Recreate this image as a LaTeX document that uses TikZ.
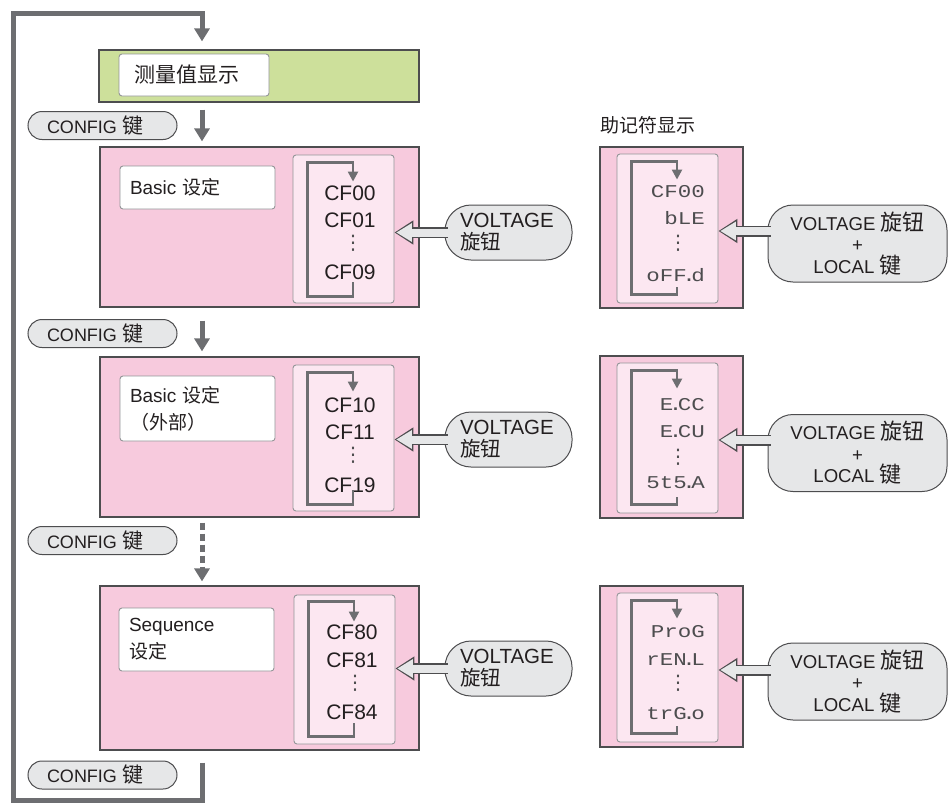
\documentclass[tikz,border=0pt]{standalone}
\usepackage{fontspec}
\setmainfont{Liberation Sans}
\newfontfamily\cjk{Noto Sans CJK SC}
\newfontfamily\segfont[FakeStretch=1.25]{Liberation Mono}
\newfontfamily\symfont{DejaVu Sans}
\newcommand\segdot{\kern-4.5pt.\kern-4.5pt}
\usetikzlibrary{arrows.meta,positioning}

\definecolor{flowgray}{HTML}{6D6E71}
\definecolor{edgegray}{HTML}{4D4D4F}
\definecolor{thingray}{HTML}{939598}
\definecolor{panelpink}{HTML}{F7CADD}
\definecolor{listpink}{HTML}{FCE7F1}
\definecolor{measgreen}{HTML}{CDE09B}
\definecolor{keygray}{HTML}{E6E7E8}
\definecolor{inkgray}{HTML}{231F20}

\begin{document}
\begin{tikzpicture}[
    x=1pt, y=-1pt,
    text=inkgray,
    measbox/.style={draw=edgegray, line width=1.2pt, fill=measgreen, minimum width=320pt, minimum height=52pt, inner sep=0pt},
    panel/.style={draw=edgegray, line width=1.2pt, fill=panelpink, minimum width=319pt, minimum height=160pt, inner sep=0pt},
    mpanel/.style={panel, minimum width=143pt, minimum height=161pt},
    lblbox/.style={draw=thingray, line width=0.9pt, fill=white, rounded corners=3pt, minimum width=155pt, text width=135pt, inner xsep=10pt, align=left, font=\fontsize{19}{27}\selectfont},
    listbox/.style={draw=thingray, line width=0.9pt, fill=listpink, rounded corners=3pt, minimum width=101pt, inner sep=0pt},
    entry/.style={font=\fontsize{21}{21}\selectfont, inner sep=0pt},
    segentry/.style={font=\segfont\fontsize{18}{18}\selectfont, text=edgegray, anchor=east, inner sep=0pt},
    dotsnode/.style={font=\symfont\fontsize{20}{20}\selectfont, text=edgegray, inner sep=0pt},
    keypill/.style={draw=edgegray, line width=1pt, fill=keygray, rounded corners=14pt, minimum width=149pt, minimum height=28pt, text width=111pt, inner xsep=19pt, inner ysep=0pt, align=left, font=\fontsize{18}{18}\selectfont},
    knob/.style={draw=edgegray, line width=1pt, fill=keygray, rounded corners=26pt, minimum width=127pt, minimum height=55pt, text width=97pt, inner xsep=15pt, align=left, font=\fontsize{20.5}{22}\selectfont},
    combo/.style={draw=edgegray, line width=1pt, fill=keygray, rounded corners=25pt, minimum width=179pt, minimum height=77pt, align=center, font=\fontsize{18.6}{21.5}\selectfont},
    flow/.style={line width=5pt, draw=flowgray, -{Triangle[length=13pt, width=15pt]}},
    flowdash/.style={flow, dash pattern=on 7pt off 4pt},
    cyclearrow/.style={line width=2.3pt, draw=flowgray, -{Triangle[length=10pt, width=10pt]}},
    turnouter/.style={line width=11pt, draw=edgegray, -{Triangle[length=19pt, width=23pt]}},
    turninner/.style={line width=8pt, draw=keygray, shorten >=1.8pt, -{Triangle[length=15.5pt, width=17.5pt]}}
]
\useasboundingbox (0,0) rectangle (949,803);

% Measurement display
\node[measbox] (meas) at (259,76) {};
\node[lblbox, minimum width=150pt, text width=120pt, inner xsep=15pt, minimum height=42pt, font=\cjk\fontsize{21}{21}\selectfont] (measlbl) at (194,75) {测量值显示};

% Setting panels
\node[panel] (basic) at (259.5,227) {};
\node[panel] (ext) at (259.5,437) {};
\node[panel, minimum height=164pt] (seq) at (259.5,668) {};

\node[lblbox, minimum height=43pt] (basiclbl) at (197.5,187.5) {Basic {\cjk 设定}};
\node[lblbox, minimum height=65pt] (extlbl) at (197.5,408.5) {Basic {\cjk 设定}\\{\cjk （外部）}};
\node[lblbox, minimum height=63pt] (seqlbl) at (196.5,639.5) {Sequence\\{\cjk 设定}};

% CF lists
\node[listbox, minimum height=148pt] (list1) at (343.5,229) {};
\node[listbox, minimum height=146pt] (list2) at (343.5,438) {};
\node[listbox, minimum height=149pt] (list3) at (344.5,669.5) {};

\node[entry] (cf00) at (350,193) {CF00};
\node[entry] (cf01) at (350,220) {CF01};
\node[dotsnode] (dots1) at (353,243) {⋮};
\node[entry] (cf09) at (350,272) {CF09};

\node[entry] (cf10) at (350,405) {CF10};
\node[entry] (cf11) at (350,432) {CF11};
\node[dotsnode] (dots2) at (353,455) {⋮};
\node[entry] (cf19) at (350,485) {CF19};

\node[entry] (cf80) at (352,632) {CF80};
\node[entry] (cf81) at (352,660) {CF81};
\node[dotsnode] (dots3) at (355,683) {⋮};
\node[entry] (cf84) at (352,712) {CF84};

% Mnemonic panels
\node[anchor=west, inner sep=0pt, font=\cjk\fontsize{19}{19}\selectfont] (mnemlbl) at (600,125) {助记符显示};

\node[mpanel] (mn1) at (671.5,227.5) {};
\node[mpanel, minimum height=162pt] (mn2) at (671.5,437) {};
\node[mpanel] (mn3) at (671.5,666.5) {};

\node[listbox, minimum height=149pt] (mnl1) at (667.5,228.5) {};
\node[listbox, minimum height=150pt] (mnl2) at (667.5,438) {};
\node[listbox, minimum height=149pt] (mnl3) at (667.5,667.5) {};

\node[segentry] (seg1a) at (705,192) {CF00};
\node[segentry] (seg1b) at (705,218) {bLE};
\node[dotsnode] (dots4) at (678,243) {⋮};
\node[segentry] (seg1c) at (705,275) {oFF\segdot d};

\node[segentry] (seg2a) at (705,405) {E\segdot CC};
\node[segentry] (seg2b) at (705,432) {E\segdot CU};
\node[dotsnode] (dots5) at (678,457) {⋮};
\node[segentry] (seg2c) at (705,483) {5t5\segdot A};

\node[segentry] (seg3a) at (705,632) {ProG};
\node[segentry] (seg3b) at (705,660) {rEN\segdot L};
\node[dotsnode] (dots6) at (678,683) {⋮};
\node[segentry] (seg3c) at (705,714) {trG\segdot o};

% Cycle arrows in the lists
\draw[cyclearrow] ([xshift=9.5pt,yshift=21pt]list1.south) |- ([xshift=15pt,yshift=7pt]list1.south west) |- ([xshift=9.5pt,yshift=-8pt]list1.north) -- ([xshift=9.5pt,yshift=-27pt]list1.north);
\draw[cyclearrow] ([xshift=9.5pt,yshift=21pt]list2.south) |- ([xshift=15pt,yshift=7pt]list2.south west) |- ([xshift=9.5pt,yshift=-8pt]list2.north) -- ([xshift=9.5pt,yshift=-27pt]list2.north);
\draw[cyclearrow] ([xshift=9.5pt,yshift=21pt]list3.south) |- ([xshift=15pt,yshift=8pt]list3.south west) |- ([xshift=9.5pt,yshift=-7pt]list3.north) -- ([xshift=9.5pt,yshift=-27pt]list3.north);
\draw[cyclearrow] ([xshift=9.5pt,yshift=16pt]mnl1.south) |- ([xshift=15pt,yshift=9pt]mnl1.south west) |- ([xshift=9.5pt,yshift=-8pt]mnl1.north) -- ([xshift=9.5pt,yshift=-26pt]mnl1.north);
\draw[cyclearrow] ([xshift=9.5pt,yshift=16pt]mnl2.south) |- ([xshift=15pt,yshift=9pt]mnl2.south west) |- ([xshift=9.5pt,yshift=-8pt]mnl2.north) -- ([xshift=9.5pt,yshift=-26pt]mnl2.north);
\draw[cyclearrow] ([xshift=9.5pt,yshift=16pt]mnl3.south) |- ([xshift=15pt,yshift=9pt]mnl3.south west) |- ([xshift=9.5pt,yshift=-8pt]mnl3.north) -- ([xshift=9.5pt,yshift=-26pt]mnl3.north);

% Knob callouts
\node[knob] (knob1) at (508.5,232.5) {VOLTAGE\\{\cjk 旋钮}};
\node[knob] (knob2) at (508.5,439.5) {VOLTAGE\\{\cjk 旋钮}};
\node[knob] (knob3) at (508.5,668.5) {VOLTAGE\\{\cjk 旋钮}};

\node[combo] (combo1) at (857.5,243.5) {VOLTAGE {\cjk\fontsize{22}{21.5}\selectfont 旋钮}\\+\\LOCAL {\cjk\fontsize{22}{21.5}\selectfont 键}};
\node[combo] (combo2) at (857.5,453) {VOLTAGE {\cjk\fontsize{22}{21.5}\selectfont 旋钮}\\+\\LOCAL {\cjk\fontsize{22}{21.5}\selectfont 键}};
\node[combo] (combo3) at (857.5,681.5) {VOLTAGE {\cjk\fontsize{22}{21.5}\selectfont 旋钮}\\+\\LOCAL {\cjk\fontsize{22}{21.5}\selectfont 键}};

\draw[turnouter] ([xshift=3pt]knob1.west) -- (knob1.west -| list1.east);
\draw[turninner] ([xshift=3pt]knob1.west) -- (knob1.west -| list1.east);
\draw[turnouter] ([xshift=3pt]knob2.west) -- (knob2.west -| list2.east);
\draw[turninner] ([xshift=3pt]knob2.west) -- (knob2.west -| list2.east);
\draw[turnouter] ([xshift=3pt]knob3.west) -- (knob3.west -| list3.east);
\draw[turninner] ([xshift=3pt]knob3.west) -- (knob3.west -| list3.east);

\draw[turnouter] ([xshift=3pt,yshift=-2.5pt]mnl1.east -| combo1.west) -- ([yshift=-2.5pt]mnl1.east);
\draw[turninner] ([xshift=3pt,yshift=-2.5pt]mnl1.east -| combo1.west) -- ([yshift=-2.5pt]mnl1.east);
\draw[turnouter] ([xshift=3pt,yshift=-2pt]mnl2.east -| combo2.west) -- ([yshift=-2pt]mnl2.east);
\draw[turninner] ([xshift=3pt,yshift=-2pt]mnl2.east -| combo2.west) -- ([yshift=-2pt]mnl2.east);
\draw[turnouter] ([xshift=3pt,yshift=-2.5pt]mnl3.east -| combo3.west) -- ([yshift=-2.5pt]mnl3.east);
\draw[turninner] ([xshift=3pt,yshift=-2.5pt]mnl3.east -| combo3.west) -- ([yshift=-2.5pt]mnl3.east);

% CONFIG keys
\node[keypill] (key1) at (102.5,125.5) {CONFIG {\cjk\fontsize{21}{18}\selectfont 键}};
\node[keypill] (key2) at (102.5,333.5) {CONFIG {\cjk\fontsize{21}{18}\selectfont 键}};
\node[keypill] (key3) at (102.5,540.5) {CONFIG {\cjk\fontsize{21}{18}\selectfont 键}};
\node[keypill] (key4) at (102.5,775) {CONFIG {\cjk\fontsize{21}{18}\selectfont 键}};

% Main flow
\coordinate (loopx) at (202,0);
\coordinate (lowleft) at (13,800);
\coordinate (upleft) at (13,13);

\draw[flow, shorten >=8pt] ([yshift=-12pt]seq.south -| loopx) |- (lowleft) -- (upleft) -| (meas.north -| loopx);
\draw[flow, shorten <=7pt, shorten >=5pt] (meas.south -| loopx) -- (basic.north -| loopx);
\draw[flow, shorten <=13pt, shorten >=5pt] (basic.south -| loopx) -- (ext.north -| loopx);
\draw[flowdash, shorten <=5pt, shorten >=4pt] (ext.south -| loopx) -- (seq.north -| loopx);

\end{tikzpicture}
\end{document}
